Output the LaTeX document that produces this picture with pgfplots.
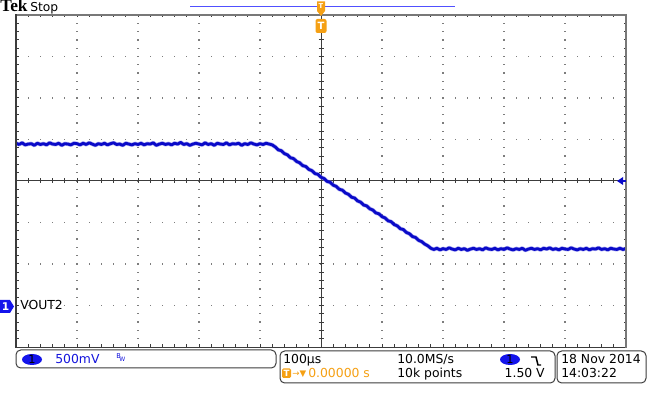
\documentclass[border=0pt]{standalone}
\usepackage{pgfplots}
\pgfplotsset{compat=1.18}
\usepackage{fontspec}
\setmainfont{DejaVu Sans}
\newfontfamily\tekserif{Liberation Serif}
\definecolor{trace}{RGB}{10,10,200}
\definecolor{tracefuzz}{RGB}{110,110,230}
\definecolor{tekorange}{RGB}{245,160,20}
\definecolor{gridc}{RGB}{125,125,125}
\definecolor{framec}{RGB}{60,60,60}
\definecolor{framel}{RGB}{120,120,120}
\definecolor{textblue}{RGB}{20,20,220}
\definecolor{ovalblue}{RGB}{20,20,235}
\definecolor{topline}{RGB}{80,80,255}
\newcommand{\tf}{\fontsize{9.3}{11}\selectfont}
\pgfplotstableread{
x y
-5.00 0.91
-4.95 0.88
-4.90 0.92
-4.85 0.87
-4.80 0.89
-4.75 0.90
-4.70 0.86
-4.65 0.91
-4.60 0.88
-4.55 0.90
-4.50 0.87
-4.45 0.92
-4.40 0.89
-4.35 0.88
-4.30 0.91
-4.25 0.86
-4.20 0.90
-4.15 0.89
-4.10 0.87
-4.05 0.91
-4.00 0.90
-3.95 0.87
-3.90 0.91
-3.85 0.88
-3.80 0.92
-3.75 0.89
-3.70 0.86
-3.65 0.90
-3.60 0.88
-3.55 0.91
-3.50 0.87
-3.45 0.90
-3.40 0.92
-3.35 0.88
-3.30 0.89
-3.25 0.86
-3.20 0.91
-3.15 0.89
-3.10 0.87
-3.05 0.90
-3.00 0.88
-2.95 0.91
-2.90 0.87
-2.85 0.90
-2.80 0.89
-2.75 0.92
-2.70 0.86
-2.65 0.89
-2.60 0.91
-2.55 0.88
-2.50 0.90
-2.45 0.87
-2.40 0.91
-2.35 0.89
-2.30 0.93
-2.25 0.88
-2.20 0.90
-2.15 0.86
-2.10 0.89
-2.05 0.91
-2.00 0.89
-1.95 0.87
-1.90 0.92
-1.85 0.88
-1.80 0.90
-1.75 0.86
-1.70 0.91
-1.65 0.89
-1.60 0.88
-1.55 0.92
-1.50 0.87
-1.45 0.90
-1.40 0.89
-1.35 0.91
-1.30 0.86
-1.25 0.90
-1.20 0.88
-1.15 0.92
-1.10 0.89
-1.05 0.87
-1.00 0.90
-0.95 0.88
-0.90 0.91
-0.85 0.89
-0.80 0.87
-0.75 0.82
-0.70 0.75
-0.65 0.73
-0.60 0.66
-0.55 0.63
-0.50 0.56
-0.45 0.54
-0.40 0.47
-0.35 0.44
-0.30 0.37
-0.25 0.35
-0.20 0.28
-0.15 0.25
-0.10 0.18
-0.05 0.16
0.00 0.09
0.05 0.06
0.10 -0.01
0.15 -0.03
0.20 -0.10
0.25 -0.13
0.30 -0.20
0.35 -0.22
0.40 -0.29
0.45 -0.32
0.50 -0.39
0.55 -0.41
0.60 -0.48
0.65 -0.51
0.70 -0.58
0.75 -0.60
0.80 -0.67
0.85 -0.70
0.90 -0.77
0.95 -0.79
1.00 -0.86
1.05 -0.89
1.10 -0.96
1.15 -0.98
1.20 -1.05
1.25 -1.08
1.30 -1.15
1.35 -1.17
1.40 -1.24
1.45 -1.27
1.50 -1.34
1.55 -1.36
1.60 -1.43
1.65 -1.46
1.70 -1.52
1.75 -1.56
1.80 -1.62
1.85 -1.65
1.90 -1.62
1.95 -1.66
2.00 -1.63
2.05 -1.65
2.10 -1.61
2.15 -1.64
2.20 -1.66
2.25 -1.62
2.30 -1.65
2.35 -1.63
2.40 -1.67
2.45 -1.64
2.50 -1.62
2.55 -1.65
2.60 -1.63
2.65 -1.66
2.70 -1.61
2.75 -1.64
2.80 -1.65
2.85 -1.62
2.90 -1.66
2.95 -1.63
3.00 -1.65
3.05 -1.61
3.10 -1.64
3.15 -1.66
3.20 -1.63
3.25 -1.65
3.30 -1.62
3.35 -1.67
3.40 -1.64
3.45 -1.62
3.50 -1.65
3.55 -1.63
3.60 -1.66
3.65 -1.62
3.70 -1.64
3.75 -1.61
3.80 -1.65
3.85 -1.63
3.90 -1.66
3.95 -1.62
4.00 -1.64
4.05 -1.65
4.10 -1.61
4.15 -1.64
4.20 -1.66
4.25 -1.63
4.30 -1.65
4.35 -1.62
4.40 -1.66
4.45 -1.63
4.50 -1.64
4.55 -1.61
4.60 -1.65
4.65 -1.63
4.70 -1.66
4.75 -1.62
4.80 -1.64
4.85 -1.65
4.90 -1.62
4.95 -1.65
5.00 -1.63
}\vouttwo
\begin{document}
\begin{tikzpicture}
\begin{scope}[x=0.75pt,y=-0.75pt,shift={(0pt,300pt)}]
% grid dots
\foreach \j in {1,2,3,5,6,7}{\foreach \i in {1,...,49}{\fill[gridc] ({16+12.2*\i-0.65},{15+41.5*\j-0.65}) rectangle ++(1.3,1.3);}}
\foreach \i in {1,2,3,4,6,7,8,9}{\foreach \j in {1,...,39}{\fill[gridc] ({16+61*\i-0.65},{15+8.3*\j-0.65}) rectangle ++(1.3,1.3);}}
% center lines
\draw[framec,line width=0.75pt] (16,181) -- (626,181);
\draw[framec,line width=0.75pt] (321,15) -- (321,347);
\foreach \i in {1,...,49}{\draw[framec,line width=0.75pt] ({16+12.2*\i},178.5) -- ({16+12.2*\i},183.5);}
\foreach \j in {1,...,39}{\draw[framec,line width=0.75pt] (318.5,{15+8.3*\j}) -- (323.5,{15+8.3*\j});}
% border ticks
\foreach \i in {1,...,49}{\draw[framec,line width=0.75pt] ({16+12.2*\i},15) -- ++(0,2.5); \draw[framec,line width=0.75pt] ({16+12.2*\i},347) -- ++(0,-2.5);}
\foreach \j in {1,...,39}{\draw[framec,line width=0.75pt] (16,{15+8.3*\j}) -- ++(2.5,0); \draw[framec,line width=0.75pt] (626,{15+8.3*\j}) -- ++(-2.5,0);}
\end{scope}

\begin{axis}[at={(12pt,39.75pt)}, anchor=south west, scale only axis,
  width=457.5pt, height=249pt, xmin=-5, xmax=5, ymin=-4, ymax=4,
  axis lines=none, clip=true]
\addplot[tracefuzz, line width=3pt, line join=round, opacity=0.6] table[x=x,y=y] {\vouttwo};
\addplot[trace, line width=2.1pt, line join=round] table[x=x,y=y] {\vouttwo};
\end{axis}

\begin{scope}[x=0.75pt,y=-0.75pt,shift={(0pt,300pt)}]
% frame
\draw[framel,line width=1.2pt] (16,15) -- (626,15);
\draw[framel,line width=2.2pt] (626,14) -- (626,348);
\draw[framec,line width=1.2pt] (16,14.5) -- (16,347.5) -- (625,347.5);
% top record bar and trigger markers
\draw[topline,line width=0.9pt] (190,6.5) -- (455,6.5);
\fill[tekorange] (317,1.5) -- (325,1.5) -- (325,11) -- (321,16) -- (317,11) -- cycle;
\node[text=white,inner sep=0,font=\fontsize{5}{5}\selectfont\bfseries] at (321,6.5) {T};
\fill[tekorange,rounded corners=1.5pt] (315.5,19) rectangle (326.5,33);
\node[text=white,inner sep=0,font=\fontsize{7.5}{7.5}\selectfont\bfseries] at (321,26) {T};
% right trigger level marker
\fill[trace] (617,181) -- (623,177) -- (623,185) -- cycle;
\draw[trace,line width=0.9pt] (622,181) -- (626,181);
% channel marker
\fill[ovalblue] (0,300) -- (10,300) -- (14,306.5) -- (10,313) -- (0,313) -- cycle;
\node[text=white,inner sep=0,font=\fontsize{8}{8}\selectfont\bfseries] at (5.5,306.5) {1};
\node[anchor=base west,inner sep=0,font=\tf] at (20,310) {VOUT2};
% title
\node[anchor=base west,inner sep=0,font=\tekserif\bfseries\fontsize{13}{13}\selectfont] at (0,12) {Tek};
\node[anchor=base west,inner sep=0,font=\fontsize{9.2}{10}\selectfont] at (30,12) {Stop};
% bottom boxes
\draw[framec,line width=0.75pt,rounded corners=3.5pt] (16,350) rectangle (276,368);
\draw[framec,line width=0.75pt,rounded corners=3.5pt] (280,351) rectangle (555,383);
\draw[framec,line width=0.75pt,rounded corners=3.5pt] (557,351) rectangle (646,383);
\fill[ovalblue] (32,359.5) ellipse [x radius=10,y radius=5.5];
\node[inner sep=0,font=\fontsize{8.5}{8.5}\selectfont] at (32,359.5) {1};
\node[anchor=base west,inner sep=0,font=\tf,text=textblue] at (55,363.3) {500mV};
\node[anchor=base west,inner sep=0,font=\fontsize{5}{5}\selectfont,text=textblue] at (116,359) {B};
\node[anchor=base west,inner sep=0,font=\fontsize{4.5}{5}\selectfont,text=textblue] at (119,362) {W};
\node[anchor=base west,inner sep=0,font=\tf] at (283,363.5) {100µs};
\node[anchor=base west,inner sep=0,font=\tf] at (397,363.5) {10.0MS/s};
\fill[ovalblue] (510,359.5) ellipse [x radius=10,y radius=5.5];
\node[inner sep=0,font=\fontsize{8.5}{8.5}\selectfont] at (510,359.5) {1};
\draw[black,line width=1.1pt] (531,357) -- (536,357) -- (538,365) -- (541,365);
\fill[tekorange,rounded corners=1pt] (282,368.5) rectangle (291,378);
\node[text=white,inner sep=0,font=\fontsize{6.5}{6.5}\selectfont\bfseries] at (286.5,373.3) {T};
\node[anchor=base west,inner sep=0,font=\fontsize{6.5}{7}\selectfont,text=tekorange] at (292,376.5) {→▼};
\node[anchor=base west,inner sep=0,font=\tf,text=tekorange] at (308,377.3) {0.00000 s};
\node[anchor=base west,inner sep=0,font=\tf] at (397,377.3) {10k points};
\node[anchor=base east,inner sep=0,font=\tf] at (545,377.3) {1.50 V};
\node[anchor=base west,inner sep=0,font=\tf] at (561,363.5) {18 Nov 2014};
\node[anchor=base west,inner sep=0,font=\tf] at (561,377.3) {14:03:22};
\end{scope}
\pgfresetboundingbox
\path (0,0) rectangle (487.5pt,300pt);
\end{tikzpicture}
\end{document}
